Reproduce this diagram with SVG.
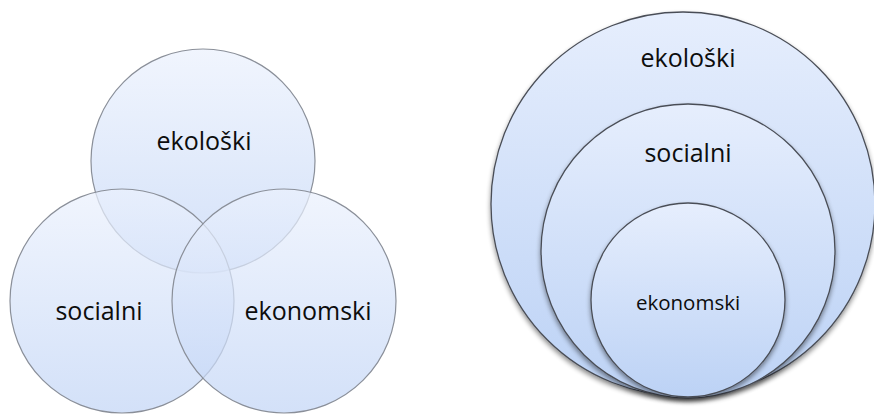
<svg xmlns="http://www.w3.org/2000/svg" width="874" height="414" viewBox="0 0 874 414">
  <defs>
    <!-- soft blue fill, lighter at the top -->
    <linearGradient id="vennFill" x1="0" y1="0" x2="0" y2="1">
      <stop offset="0" stop-color="#ebf1fd"/>
      <stop offset="1" stop-color="#c2d5f6"/>
    </linearGradient>
    <linearGradient id="nestFill" x1="0" y1="0" x2="0" y2="1">
      <stop offset="0" stop-color="#e6eefd"/>
      <stop offset="1" stop-color="#bcd2f5"/>
    </linearGradient>
    <filter id="shadow" x="-10%" y="-10%" width="120%" height="125%">
      <feGaussianBlur in="SourceAlpha" stdDeviation="2.5"/>
      <feOffset dx="0" dy="3" result="b"/>
      <feComponentTransfer><feFuncA type="linear" slope="0.45"/></feComponentTransfer>
      <feMerge><feMergeNode/><feMergeNode in="SourceGraphic"/></feMerge>
    </filter>
  </defs>
  <style>
    .venn { fill: url(#vennFill); fill-opacity: 0.72; stroke: #8a8f99; stroke-width: 1.2; }
    .nest { fill: url(#nestFill); stroke: #4a4e57; stroke-width: 1.3; filter: url(#shadow); }
    .lbl { font-family: "Open Sans", "Liberation Sans", sans-serif; fill: #0d0d0d; text-anchor: middle; }
    .big { font-size: 25px; }
    .small { font-size: 20.5px; }
  </style>

  <rect width="874" height="414" fill="#ffffff"/>

  <!-- three overlapping circles -->
  <g id="venn-ekoloski">
    <circle class="venn" cx="203" cy="161" r="112"/>
  </g>
  <g id="venn-socialni">
    <circle class="venn" cx="122" cy="301" r="112"/>
  </g>
  <g id="venn-ekonomski">
    <circle class="venn" cx="284" cy="301" r="112"/>
  </g>
  <g id="venn-labels">
    <text class="lbl big" x="204" y="150">ekološki</text>
    <text class="lbl big" x="99" y="320">socialni</text>
    <text class="lbl big" x="308" y="320">ekonomski</text>
  </g>

  <!-- nested circles touching at the bottom -->
  <g id="nest-ekoloski">
    <circle class="nest" cx="683" cy="204" r="192"/>
    <text class="lbl big" x="688" y="67">ekološki</text>
  </g>
  <g id="nest-socialni">
    <circle class="nest" cx="688" cy="251" r="147"/>
    <text class="lbl big" x="688" y="162">socialni</text>
  </g>
  <g id="nest-ekonomski">
    <circle class="nest" cx="688" cy="300" r="97"/>
    <text class="lbl small" x="688" y="310">ekonomski</text>
  </g>
</svg>
